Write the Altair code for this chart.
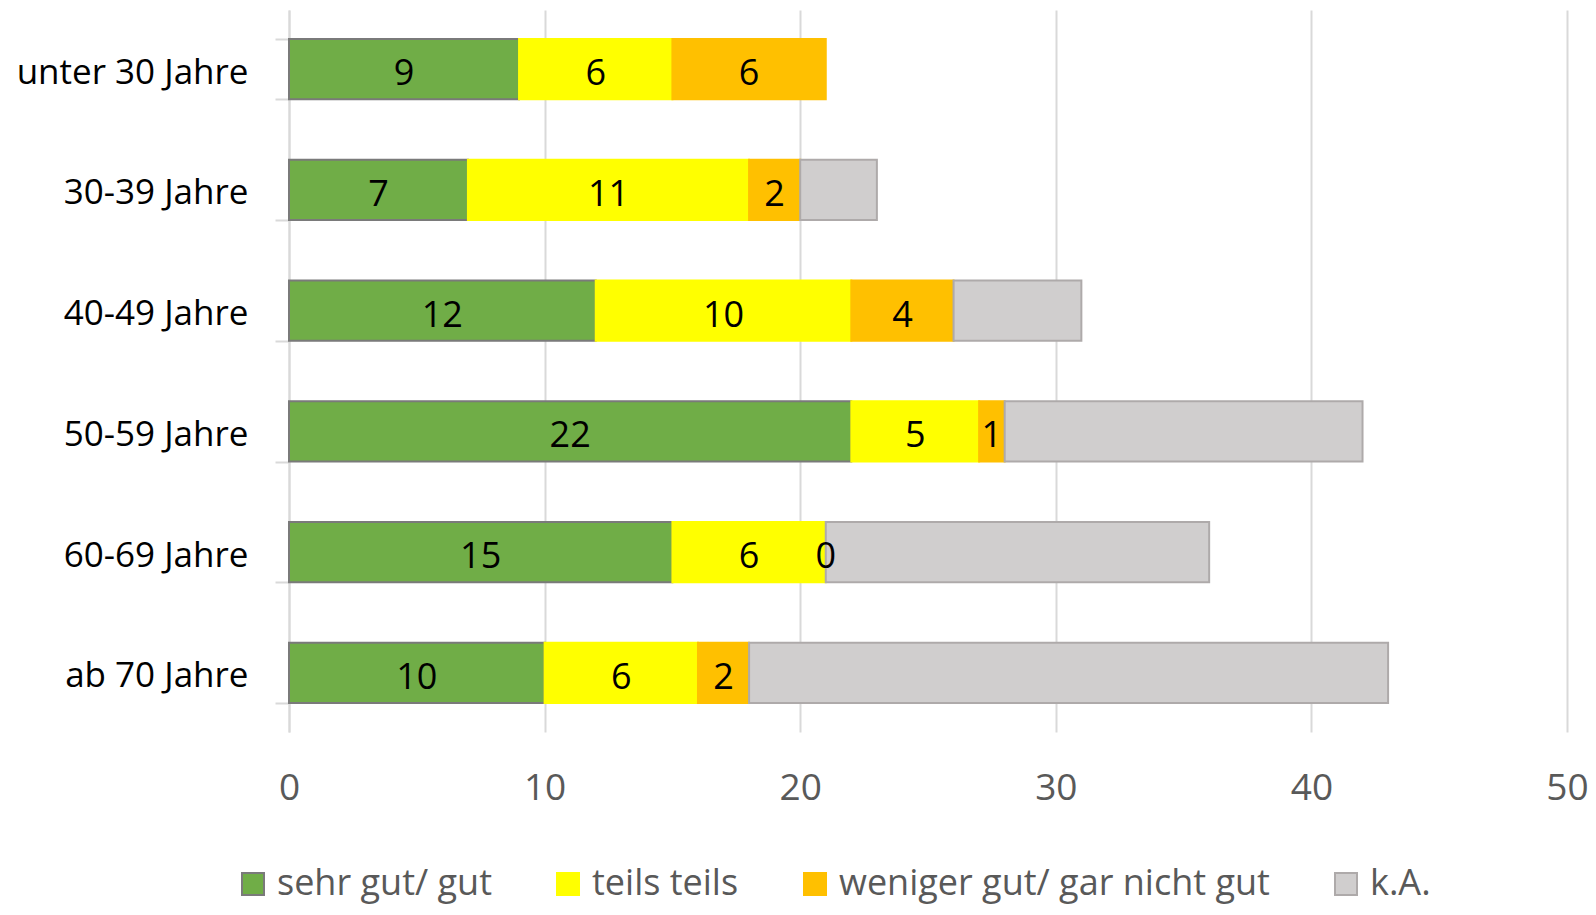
import altair as alt
import pandas as pd

ages = ["unter 30 Jahre", "30-39 Jahre", "40-49 Jahre", "50-59 Jahre", "60-69 Jahre", "ab 70 Jahre"]
series = ["sehr gut/ gut", "teils teils", "weniger gut/ gar nicht gut", "k.A."]
sehr_gut = [9, 7, 12, 22, 15, 10]
teils = [6, 11, 10, 5, 6, 6]
weniger = [6, 2, 4, 1, 0, 2]
ka = [0, 3, 5, 14, 15, 25]

fill_colors = ["#70AD47", "#FFFF00", "#FFC000", "#D0CECE"]
stroke_colors = ["#7A7A7A", "#FFFF00", "#FFC000", "#AEAAAA"]

rows = []
for i, a in enumerate(ages):
    for j, (s, vals) in enumerate(zip(series, [sehr_gut, teils, weniger, ka])):
        rows.append({"age": a, "series": s, "value": vals[i], "order": j})
df = pd.DataFrame(rows)

FONT = "Open Sans"
GRAY = "#595959"
LINE = "#D9D9D9"

legend = alt.Legend(
    title=None, orient="none", legendX=-54, legendY=856, direction="horizontal",
    symbolType="square", symbolSize=484, symbolStrokeWidth=2, labelFontSize=36,
    labelFont=FONT, labelColor=GRAY, labelOffset=6, columnPadding=58, padding=0,
    labelLimit=1000,
)

y_enc = alt.Y(
    "age:N", sort=ages, title=None,
    scale=alt.Scale(paddingInner=0.5, paddingOuter=0.24),
    axis=alt.Axis(
        labelFontSize=35, labelFont=FONT, labelColor="#000000", labelPadding=27,
        labelOffset=3,
        domainColor=LINE, domainWidth=2, tickColor=LINE, tickWidth=2, tickSize=14,
        tickBand="extent", grid=False, labelLimit=400,
    ),
)

base = alt.Chart(df).transform_stack(
    stack="value", groupby=["age"], as_=["x0", "x1"], sort=[alt.SortField("order")]
).transform_calculate(mid="(datum.x0 + datum.x1) / 2")

bars = base.transform_filter("datum.value > 0").mark_bar(strokeWidth=2).encode(
    y=y_enc,
    x=alt.X(
        "x0:Q", title=None, scale=alt.Scale(domain=[0, 50], nice=False),
        axis=alt.Axis(
            values=[0, 10, 20, 30, 40, 50], grid=True, gridColor=LINE, gridWidth=2,
            ticks=False, domain=False, labelPadding=38, labelFontSize=37,
            labelFont=FONT, labelColor=GRAY, labelFlush=False,
        ),
    ),
    x2="x1:Q",
    fill=alt.Fill("series:N", scale=alt.Scale(domain=series, range=fill_colors), legend=legend, sort=series),
    stroke=alt.Stroke("series:N", scale=alt.Scale(domain=series, range=stroke_colors), legend=legend, sort=series),
)

labels = base.transform_filter("datum.series != 'k.A.'").mark_text(
    fontSize=36, font=FONT, color="black", baseline="middle", dy=5
).encode(
    y=alt.Y("age:N", sort=ages),
    x=alt.X("mid:Q"),
    text=alt.Text("value:Q"),
)

chart = alt.layer(bars, labels).properties(
    width=1278, height=722,
    autosize=alt.AutoSizeParams(type="none"),
    padding={"left": 281, "top": 2, "right": 21, "bottom": 175},
).configure_view(stroke=None)

chart.save("out.html", embed_options={"renderer": "svg", "actions": False})
